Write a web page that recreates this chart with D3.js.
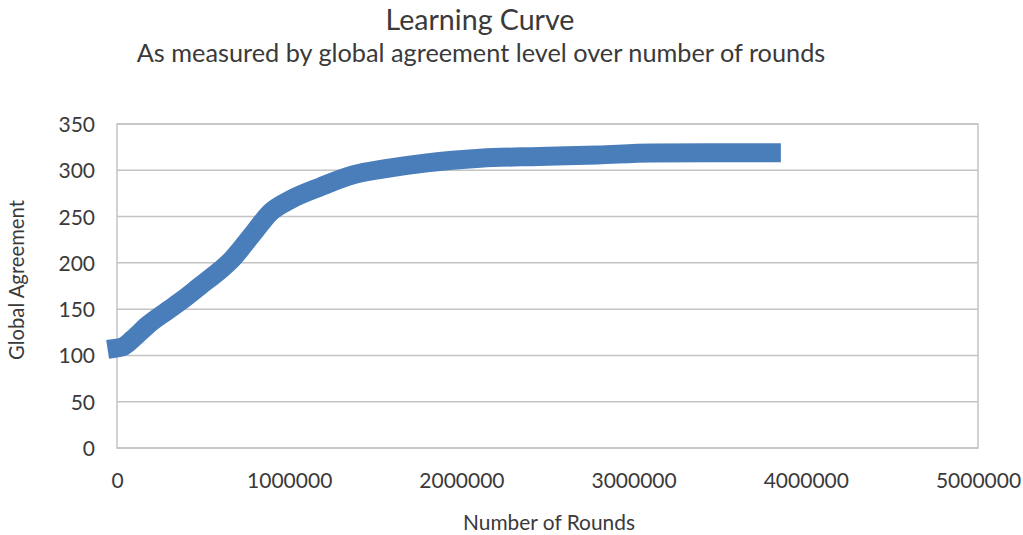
<!DOCTYPE html>
<html>
<head>
<meta charset="utf-8">
<script src="https://cdn.jsdelivr.net/npm/d3@7"></script>
<style>
  html, body { margin: 0; padding: 0; background: #fff; }
  svg { display: block; }
  text { font-family: Lato, "Open Sans", sans-serif; fill: #3a3a3a; }
</style>
</head>
<body>
<svg id="chart" width="1023" height="535"></svg>
<script>
// Learning curve: global agreement level against number of rounds
const rounds    = [0, 40000, 93000, 180000, 290000, 380000, 482000, 598000, 674000, 714000, 800000, 888000, 1005000, 1180000, 1370000, 1570000, 1800000, 2110000, 2450000, 2790000, 3100000, 3450000, 3800000];
const agreement = [108, 110, 118, 133, 148, 160, 175, 192, 205, 214, 234, 254, 268, 282, 295, 302, 308, 313, 315, 316.6, 318.6, 319, 319];

const yTicks = [0, 50, 100, 150, 200, 250, 300, 350];
const xTicks = [0, 1000000, 2000000, 3000000, 4000000, 5000000];

const titleText = "Learning Curve";
const subtitleText = "As measured by global agreement level over number of rounds";
const xTitleText = "Number of Rounds";
const yTitleText = "Global Agreement";

const svg = d3.select("#chart");
const plot = { left: 117, right: 978, top: 124, bottom: 448 };

const x = d3.scaleLinear().domain([0, 5000000]).range([plot.left, plot.right]);
const y = d3.scaleLinear().domain([0, 350]).range([plot.bottom, plot.top]);

// size a text element so that it spans the given width
function fitText(sel, width, base) {
  sel.style("font-size", base + "px");
  const len = sel.node().getComputedTextLength();
  sel.style("font-size", (base * width / len) + "px");
  return sel;
}

// horizontal gridlines
svg.append("g")
  .selectAll("line")
  .data(yTicks)
  .join("line")
  .attr("x1", plot.left).attr("x2", plot.right)
  .attr("y1", d => y(d)).attr("y2", d => y(d))
  .attr("stroke", "#c3c3c3")
  .attr("stroke-width", 1.5);

// plot frame
svg.append("rect")
  .attr("x", plot.left).attr("y", plot.top)
  .attr("width", plot.right - plot.left)
  .attr("height", plot.bottom - plot.top)
  .attr("fill", "none")
  .attr("stroke", "#c3c3c3")
  .attr("stroke-width", 1.5);

// y axis labels
const yAxis = svg.append("g")
  .attr("transform", `translate(${plot.left},0)`)
  .call(d3.axisLeft(y).tickValues(yTicks).tickSize(0).tickPadding(22).tickFormat(d3.format("d")));
yAxis.select(".domain").remove();
yAxis.selectAll("text")
  .style("font-size", "21px")
  .style("font-family", "Lato, sans-serif")
  .attr("fill", "#3a3a3a")
  .attr("dy", "0.36em");

// x axis labels
const xAxis = svg.append("g")
  .attr("transform", `translate(0,${plot.bottom})`)
  .call(d3.axisBottom(x).tickValues(xTicks).tickSize(0).tickPadding(25).tickFormat(d3.format("d")));
xAxis.select(".domain").remove();
xAxis.selectAll("text")
  .style("font-size", "21px")
  .style("font-family", "Lato, sans-serif")
  .attr("fill", "#3a3a3a");

// the series, drawn as a heavy band
const line = d3.line()
  .x((d, i) => x(rounds[i]))
  .y(d => y(d))
  .curve(d3.curveMonotoneX);

svg.append("path")
  .datum(agreement)
  .attr("d", line)
  .attr("fill", "none")
  .attr("stroke", "#4a7ebb")
  .attr("stroke-width", 19)
  .attr("stroke-linejoin", "round")
  .attr("stroke-linecap", "square");

// titles
const title = svg.append("text")
  .attr("x", 480).attr("y", 30)
  .attr("text-anchor", "middle")
  .attr("fill", "#262626")
  .text(titleText);
fitText(title, 189, 26);

const subtitle = svg.append("text")
  .attr("x", 481).attr("y", 62)
  .attr("text-anchor", "middle")
  .attr("fill", "#262626")
  .text(subtitleText);
fitText(subtitle, 689, 21);

const xTitle = svg.append("text")
  .attr("x", 549).attr("y", 530)
  .attr("text-anchor", "middle")
  .text(xTitleText);
fitText(xTitle, 172, 19);

const yTitle = svg.append("text")
  .attr("transform", "translate(24,280) rotate(-90)")
  .attr("text-anchor", "middle")
  .text(yTitleText);
fitText(yTitle, 160, 18);
</script>
</body>
</html>
